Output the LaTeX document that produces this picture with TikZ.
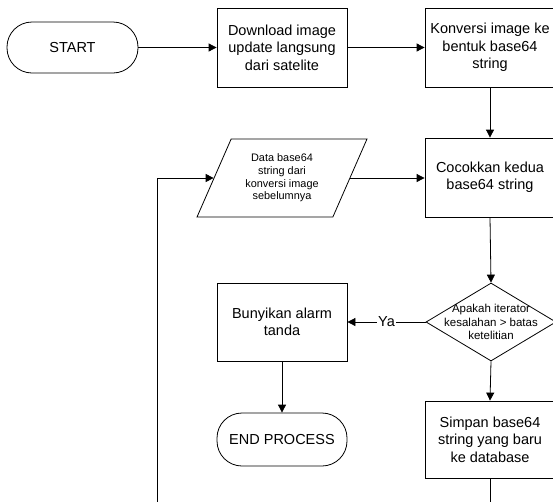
\documentclass[tikz,border=0pt]{standalone}
\usepackage{fontspec}
\setmainfont{Liberation Sans}
\usetikzlibrary{arrows.meta,shapes.geometric}
\begin{document}
\begin{tikzpicture}[x=1pt,y=-1pt,
  line width=0.8pt,
  box/.style={draw,rectangle,minimum width=130pt,minimum height=79pt,align=center,inner sep=2pt,font=\fontsize{14.5}{17.4}\selectfont},
  term/.style={draw,rectangle,rounded corners=25pt,minimum width=131pt,minimum height=51pt,align=center,font=\fontsize{14.5}{17.4}\selectfont},
  para/.style={draw,trapezium,trapezium left angle=63,trapezium right angle=117,trapezium stretches=true,minimum width=170pt,minimum height=78pt,inner sep=0pt,align=center,font=\fontsize{10.9}{12.7}\selectfont},
  dia/.style={draw,diamond,minimum width=130pt,minimum height=78pt,inner sep=0pt},
  dtext/.style={align=center,inner sep=0pt,font=\fontsize{11.5}{13.3}\selectfont},
  arr/.style={-{Triangle[length=8pt,width=8pt]}},
  lbl/.style={fill=white,inner sep=1pt,font=\fontsize{14.5}{17.4}\selectfont}]
\useasboundingbox (0,0) rectangle (553,501);
\clip (0,0) rectangle (553,501);
\node[term] (start) at (72.5,47.5) {START};
\node[box] (down) at (282,47.5) {Download image\\update langsung\\dari satelite};
\node[box] (konv) at (490,47.5) {Konversi image ke\\bentuk base64\\string};
\node[box] (coc) at (490,177.5) {Cocokkan kedua\\base64 string};
\node[para] (data) at (282,178) {Data base64\\string dari\\konversi image\\sebelumnya};
\node[dia,label={[dtext]center:{Apakah iterator\\kesalahan > batas\\ketelitian}}] (dec) at (491,322) {};
\node[box,minimum height=78pt] (alarm) at (282,322) {Bunyikan alarm\\tanda};
\node[term,minimum width=130pt,minimum height=53pt] (endp) at (282,439.5) {END PROCESS};
\node[box,minimum height=77pt] (simpan) at (490,439.5) {Simpan base64\\string yang baru\\ke database};
\coordinate (loopbot) at (157,520);
\coordinate (simbot) at (490,520);
\draw[arr] (start) -- (down);
\draw[arr] (down) -- (konv);
\draw[arr] (konv.south) -- (coc.north);
\draw[arr] (data.east) -- (data.east -| coc.west);
\draw[arr] (coc.south) -- (dec.north);
\draw[arr] (dec.west) -- node[lbl] {Ya} (alarm.east);
\draw[arr] (alarm.south) -- (endp.north);
\draw[arr] (dec.south) -- (simpan.north);
\draw (simpan.south) -- (simbot);
\draw[arr] (loopbot) |- (data.west);
\end{tikzpicture}
\end{document}
